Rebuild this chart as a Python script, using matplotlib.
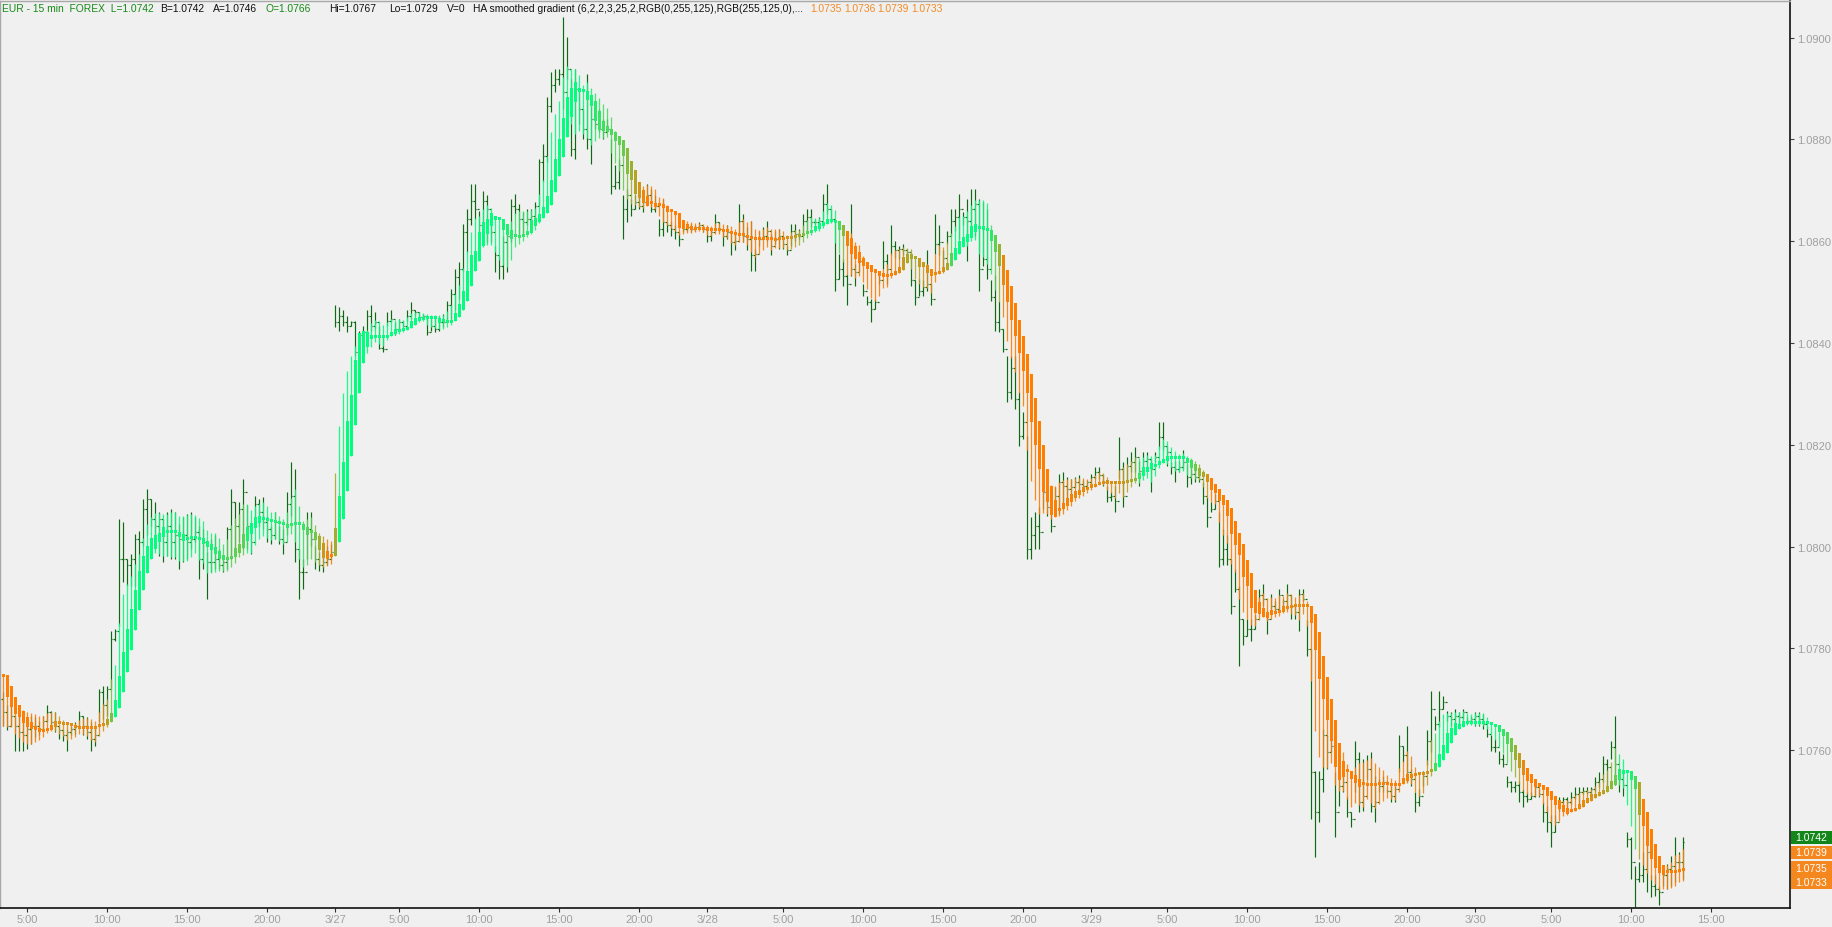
import numpy as np
import matplotlib
matplotlib.use("Agg")
import matplotlib.pyplot as plt
from matplotlib.collections import LineCollection
from matplotlib.patches import Rectangle
from matplotlib.transforms import blended_transform_factory

plt.rcParams['font.family'] = ['Liberation Sans', 'DejaVu Sans']

# ---------------- data (EUR/USD 15-min bars) ----------------
ha_mid = [
 1.07747, 1.07726, 1.07705, 1.07688, 1.07677, 1.07665, 1.07655, 1.07648, 1.07644, 1.07640,
 1.07638, 1.07640, 1.07645, 1.07651, 1.07654, 1.07653, 1.07652, 1.07650, 1.07647, 1.07645,
 1.07644, 1.07644, 1.07644, 1.07645, 1.07648, 1.07650, 1.07656, 1.07665, 1.07682, 1.07714,
 1.07753, 1.07796, 1.07837, 1.07876, 1.07914, 1.07948, 1.07975, 1.07996, 1.08009, 1.08018,
 1.08028, 1.08029, 1.08030, 1.08029, 1.08024, 1.08018, 1.08016, 1.08017, 1.08018, 1.08016,
 1.08011, 1.08005, 1.07999, 1.07992, 1.07984, 1.07979, 1.07976, 1.07979, 1.07988, 1.07997,
 1.08011, 1.08025, 1.08036, 1.08047, 1.08054, 1.08056, 1.08053, 1.08051, 1.08049, 1.08047,
 1.08045, 1.08041, 1.08043, 1.08045, 1.08045, 1.08039, 1.08031, 1.08029, 1.08021, 1.08007,
 1.07992, 1.07984, 1.07982, 1.08009, 1.08054, 1.08110, 1.08178, 1.08238, 1.08302, 1.08361,
 1.08392, 1.08407, 1.08411, 1.08412, 1.08412, 1.08412, 1.08413, 1.08417, 1.08422, 1.08424,
 1.08426, 1.08429, 1.08436, 1.08443, 1.08447, 1.08449, 1.08451, 1.08451, 1.08450, 1.08445,
 1.08444, 1.08443, 1.08443, 1.08451, 1.08464, 1.08483, 1.08512, 1.08542, 1.08561, 1.08590,
 1.08614, 1.08629, 1.08642, 1.08646, 1.08644, 1.08633, 1.08623, 1.08614, 1.08611, 1.08610,
 1.08612, 1.08616, 1.08629, 1.08637, 1.08645, 1.08656, 1.08672, 1.08696, 1.08729, 1.08765,
 1.08804, 1.08844, 1.08873, 1.08893, 1.08897, 1.08896, 1.08887, 1.08876, 1.08856, 1.08837,
 1.08827, 1.08821, 1.08815, 1.08806, 1.08798, 1.08783, 1.08758, 1.08739, 1.08716, 1.08700,
 1.08688, 1.08679, 1.08676, 1.08672, 1.08673, 1.08669, 1.08663, 1.08660, 1.08656, 1.08641,
 1.08633, 1.08629, 1.08626, 1.08625, 1.08625, 1.08625, 1.08624, 1.08623, 1.08623, 1.08623,
 1.08622, 1.08621, 1.08618, 1.08615, 1.08613, 1.08613, 1.08610, 1.08608, 1.08605, 1.08605,
 1.08605, 1.08606, 1.08605, 1.08604, 1.08605, 1.08606, 1.08607, 1.08608, 1.08609, 1.08611,
 1.08614, 1.08617, 1.08620, 1.08625, 1.08630, 1.08634, 1.08639, 1.08641, 1.08639, 1.08631,
 1.08621, 1.08606, 1.08590, 1.08578, 1.08568, 1.08560, 1.08553, 1.08546, 1.08542, 1.08537,
 1.08533, 1.08532, 1.08534, 1.08538, 1.08544, 1.08557, 1.08566, 1.08570, 1.08568, 1.08559,
 1.08554, 1.08546, 1.08539, 1.08537, 1.08539, 1.08544, 1.08551, 1.08564, 1.08575, 1.08588,
 1.08598, 1.08606, 1.08618, 1.08626, 1.08627, 1.08626, 1.08623, 1.08612, 1.08595, 1.08573,
 1.08544, 1.08512, 1.08479, 1.08446, 1.08413, 1.08379, 1.08340, 1.08292, 1.08246, 1.08199,
 1.08153, 1.08120, 1.08091, 1.08075, 1.08073, 1.08079, 1.08087, 1.08095, 1.08102, 1.08107,
 1.08112, 1.08115, 1.08119, 1.08121, 1.08124, 1.08126, 1.08127, 1.08126, 1.08126, 1.08126,
 1.08126, 1.08128, 1.08129, 1.08132, 1.08138, 1.08147, 1.08152, 1.08158, 1.08160, 1.08164,
 1.08168, 1.08173, 1.08176, 1.08175, 1.08175, 1.08175, 1.08170, 1.08162, 1.08155, 1.08147,
 1.08142, 1.08134, 1.08123, 1.08114, 1.08102, 1.08092, 1.08076, 1.08050, 1.08027, 1.08005,
 1.07973, 1.07948, 1.07914, 1.07892, 1.07880, 1.07871, 1.07865, 1.07870, 1.07870, 1.07872,
 1.07878, 1.07880, 1.07882, 1.07884, 1.07884, 1.07884, 1.07884, 1.07867, 1.07832, 1.07786,
 1.07743, 1.07701, 1.07660, 1.07614, 1.07578, 1.07563, 1.07560, 1.07552, 1.07544, 1.07536,
 1.07534, 1.07533, 1.07533, 1.07533, 1.07535, 1.07534, 1.07534, 1.07532, 1.07532, 1.07533,
 1.07539, 1.07546, 1.07550, 1.07553, 1.07554, 1.07555, 1.07557, 1.07560, 1.07567, 1.07580,
 1.07595, 1.07614, 1.07629, 1.07641, 1.07646, 1.07652, 1.07654, 1.07655, 1.07655, 1.07655,
 1.07655, 1.07654, 1.07652, 1.07649, 1.07642, 1.07635, 1.07624, 1.07610, 1.07595, 1.07580,
 1.07566, 1.07553, 1.07544, 1.07536, 1.07532, 1.07527, 1.07519, 1.07511, 1.07502, 1.07493,
 1.07486, 1.07480, 1.07481, 1.07484, 1.07489, 1.07496, 1.07501, 1.07507, 1.07510, 1.07514,
 1.07518, 1.07524, 1.07532, 1.07542, 1.07553, 1.07557, 1.07559, 1.07550, 1.07537, 1.07505,
 1.07478, 1.07445, 1.07416, 1.07392, 1.07375, 1.07365, 1.07362, 1.07362, 1.07362, 1.07363, 1.07365,
]

raw_high = [
 1.07714, 1.07688, 1.07694, 1.07668, 1.07671, 1.07661, 1.07665, 1.07668, 1.07665, 1.07658,
 1.07668, 1.07688, 1.07678, 1.07675, 1.07648, 1.07639, 1.07642, 1.07648, 1.07655, 1.07678,
 1.07668, 1.07665, 1.07655, 1.07648, 1.07720, 1.07727, 1.07727, 1.07835, 1.07838, 1.08054,
 1.08048, 1.07976, 1.07986, 1.08025, 1.08031, 1.08094, 1.08113, 1.08094, 1.08087, 1.08068,
 1.08054, 1.08068, 1.08074, 1.08068, 1.08045, 1.08058, 1.08064, 1.08068, 1.08058, 1.08041,
 1.08035, 1.07989, 1.08015, 1.08022, 1.07995, 1.07976, 1.08038, 1.08113, 1.08087, 1.08087,
 1.08133, 1.08081, 1.08041, 1.08100, 1.08094, 1.08097, 1.08061, 1.08041, 1.08068, 1.08041,
 1.08035, 1.08107, 1.08166, 1.08153, 1.07995, 1.07976, 1.08068, 1.08068, 1.08002, 1.07989,
 1.08002, 1.08002, 1.08005, 1.08474, 1.08470, 1.08464, 1.08454, 1.08444, 1.08444, 1.08424,
 1.08434, 1.08464, 1.08474, 1.08460, 1.08434, 1.08415, 1.08460, 1.08464, 1.08441, 1.08447,
 1.08444, 1.08464, 1.08480, 1.08464, 1.08460, 1.08457, 1.08454, 1.08451, 1.08454, 1.08454,
 1.08457, 1.08483, 1.08506, 1.08546, 1.08559, 1.08634, 1.08663, 1.08713, 1.08713, 1.08660,
 1.08699, 1.08690, 1.08650, 1.08591, 1.08572, 1.08611, 1.08627, 1.08683, 1.08693, 1.08673,
 1.08657, 1.08663, 1.08663, 1.08677, 1.08762, 1.08791, 1.08883, 1.08932, 1.08939, 1.08939,
 1.09040, 1.09001, 1.08919, 1.08939, 1.08899, 1.08860, 1.08929, 1.08866, 1.08866, 1.08860,
 1.08840, 1.08840, 1.08801, 1.08749, 1.08762, 1.08690, 1.08703, 1.08683, 1.08690, 1.08709,
 1.08690, 1.08713, 1.08703, 1.08690, 1.08644, 1.08683, 1.08637, 1.08637, 1.08631, 1.08618,
 1.08637, 1.08634, 1.08634, 1.08631, 1.08637, 1.08631, 1.08624, 1.08624, 1.08654, 1.08637,
 1.08624, 1.08631, 1.08621, 1.08614, 1.08673, 1.08654, 1.08627, 1.08640, 1.08585, 1.08621,
 1.08627, 1.08640, 1.08614, 1.08621, 1.08624, 1.08611, 1.08591, 1.08634, 1.08634, 1.08624,
 1.08654, 1.08663, 1.08663, 1.08644, 1.08647, 1.08693, 1.08713, 1.08663, 1.08637, 1.08575,
 1.08565, 1.08536, 1.08673, 1.08555, 1.08578, 1.08516, 1.08493, 1.08487, 1.08487, 1.08539,
 1.08601, 1.08575, 1.08631, 1.08601, 1.08591, 1.08595, 1.08585, 1.08575, 1.08523, 1.08526,
 1.08523, 1.08582, 1.08516, 1.08654, 1.08631, 1.08582, 1.08621, 1.08663, 1.08663, 1.08693,
 1.08657, 1.08683, 1.08703, 1.08703, 1.08683, 1.08677, 1.08663, 1.08523, 1.08533, 1.08483,
 1.08428, 1.08375, 1.08375, 1.08375, 1.08303, 1.08264, 1.08218, 1.08058, 1.08068, 1.08077,
 1.08140, 1.08097, 1.08077, 1.08117, 1.08143, 1.08146, 1.08136, 1.08133, 1.08136, 1.08140,
 1.08130, 1.08130, 1.08143, 1.08156, 1.08156, 1.08140, 1.08120, 1.08107, 1.08120, 1.08215,
 1.08166, 1.08176, 1.08185, 1.08195, 1.08169, 1.08185, 1.08185, 1.08172, 1.08185, 1.08244,
 1.08244, 1.08198, 1.08166, 1.08169, 1.08169, 1.08189, 1.08162, 1.08162, 1.08153, 1.08146,
 1.08126, 1.08097, 1.08087, 1.08104, 1.08068, 1.08035, 1.08022, 1.07976, 1.07956, 1.07923,
 1.07858, 1.07858, 1.07858, 1.07865, 1.07917, 1.07927, 1.07874, 1.07907, 1.07894, 1.07917,
 1.07897, 1.07927, 1.07904, 1.07884, 1.07917, 1.07917, 1.07855, 1.07799, 1.07560, 1.07560,
 1.07642, 1.07629, 1.07629, 1.07557, 1.07557, 1.07563, 1.07511, 1.07478, 1.07619, 1.07596,
 1.07583, 1.07590, 1.07596, 1.07550, 1.07544, 1.07550, 1.07524, 1.07530, 1.07530, 1.07629,
 1.07609, 1.07648, 1.07563, 1.07517, 1.07524, 1.07560, 1.07639, 1.07717, 1.07668, 1.07717,
 1.07707, 1.07678, 1.07675, 1.07681, 1.07675, 1.07681, 1.07665, 1.07668, 1.07675, 1.07675,
 1.07671, 1.07648, 1.07629, 1.07622, 1.07599, 1.07593, 1.07550, 1.07540, 1.07540, 1.07540,
 1.07524, 1.07517, 1.07517, 1.07544, 1.07524, 1.07498, 1.07491, 1.07472, 1.07472, 1.07508,
 1.07508, 1.07508, 1.07517, 1.07527, 1.07527, 1.07527, 1.07527, 1.07527, 1.07547, 1.07557,
 1.07589, 1.07583, 1.07619, 1.07668, 1.07563, 1.07557, 1.07439, 1.07429, 1.07373, 1.07380,
 1.07400, 1.07426, 1.07354, 1.07354, 1.07334, 1.07367, 1.07377, 1.07393, 1.07429, 1.07400, 1.07429,
]

raw_low = [
 1.07648, 1.07639, 1.07648, 1.07599, 1.07599, 1.07599, 1.07603, 1.07612, 1.07625, 1.07629,
 1.07639, 1.07655, 1.07648, 1.07635, 1.07622, 1.07619, 1.07599, 1.07629, 1.07632, 1.07648,
 1.07629, 1.07622, 1.07599, 1.07609, 1.07655, 1.07661, 1.07668, 1.07720, 1.07815, 1.07845,
 1.07930, 1.07923, 1.07923, 1.07923, 1.07953, 1.08002, 1.08022, 1.08041, 1.08009, 1.07982,
 1.07969, 1.07982, 1.07976, 1.07976, 1.07956, 1.07969, 1.07976, 1.07995, 1.08009, 1.07937,
 1.07956, 1.07897, 1.07950, 1.07956, 1.07956, 1.07950, 1.07956, 1.07976, 1.07986, 1.08009,
 1.07995, 1.07995, 1.07986, 1.08048, 1.08041, 1.08035, 1.08009, 1.08005, 1.08015, 1.08005,
 1.07986, 1.08022, 1.08061, 1.07969, 1.07897, 1.07917, 1.07976, 1.08002, 1.07956, 1.07953,
 1.07950, 1.07963, 1.07976, 1.08431, 1.08424, 1.08434, 1.08421, 1.08434, 1.08375, 1.08382,
 1.08382, 1.08415, 1.08424, 1.08428, 1.08388, 1.08382, 1.08434, 1.08441, 1.08415, 1.08424,
 1.08431, 1.08444, 1.08447, 1.08454, 1.08447, 1.08447, 1.08415, 1.08424, 1.08421, 1.08424,
 1.08431, 1.08441, 1.08447, 1.08464, 1.08487, 1.08542, 1.08578, 1.08631, 1.08644, 1.08591,
 1.08618, 1.08598, 1.08598, 1.08539, 1.08526, 1.08526, 1.08539, 1.08598, 1.08654, 1.08611,
 1.08611, 1.08631, 1.08631, 1.08637, 1.08670, 1.08716, 1.08755, 1.08853, 1.08893, 1.08906,
 1.08860, 1.08919, 1.08768, 1.08762, 1.08830, 1.08801, 1.08781, 1.08752, 1.08821, 1.08814,
 1.08801, 1.08814, 1.08693, 1.08703, 1.08703, 1.08605, 1.08637, 1.08650, 1.08663, 1.08663,
 1.08657, 1.08683, 1.08657, 1.08657, 1.08611, 1.08611, 1.08618, 1.08611, 1.08605, 1.08591,
 1.08618, 1.08621, 1.08618, 1.08621, 1.08624, 1.08618, 1.08598, 1.08601, 1.08624, 1.08618,
 1.08591, 1.08605, 1.08572, 1.08582, 1.08611, 1.08598, 1.08582, 1.08542, 1.08542, 1.08591,
 1.08604, 1.08601, 1.08572, 1.08595, 1.08585, 1.08585, 1.08572, 1.08591, 1.08601, 1.08604,
 1.08614, 1.08621, 1.08627, 1.08631, 1.08627, 1.08644, 1.08654, 1.08637, 1.08503, 1.08526,
 1.08513, 1.08474, 1.08532, 1.08513, 1.08539, 1.08493, 1.08474, 1.08441, 1.08467, 1.08516,
 1.08546, 1.08516, 1.08572, 1.08568, 1.08565, 1.08572, 1.08572, 1.08513, 1.08474, 1.08493,
 1.08493, 1.08503, 1.08474, 1.08575, 1.08572, 1.08546, 1.08595, 1.08611, 1.08621, 1.08604,
 1.08631, 1.08562, 1.08624, 1.08611, 1.08503, 1.08552, 1.08526, 1.08483, 1.08424, 1.08421,
 1.08382, 1.08284, 1.08290, 1.08271, 1.08198, 1.08212, 1.07976, 1.07976, 1.07995, 1.07995,
 1.08074, 1.08061, 1.08028, 1.08068, 1.08064, 1.08074, 1.08090, 1.08100, 1.08117, 1.08107,
 1.08113, 1.08120, 1.08123, 1.08133, 1.08133, 1.08120, 1.08087, 1.08090, 1.08068, 1.08133,
 1.08077, 1.08130, 1.08146, 1.08146, 1.08120, 1.08146, 1.08149, 1.08107, 1.08166, 1.08192,
 1.08189, 1.08159, 1.08143, 1.08126, 1.08146, 1.08153, 1.08117, 1.08123, 1.08126, 1.08126,
 1.08084, 1.08038, 1.08068, 1.08074, 1.07959, 1.07963, 1.07963, 1.07868, 1.07910, 1.07766,
 1.07806, 1.07825, 1.07815, 1.07838, 1.07884, 1.07884, 1.07829, 1.07871, 1.07871, 1.07871,
 1.07884, 1.07878, 1.07858, 1.07858, 1.07835, 1.07894, 1.07786, 1.07465, 1.07390, 1.07458,
 1.07517, 1.07563, 1.07596, 1.07429, 1.07491, 1.07517, 1.07468, 1.07449, 1.07517, 1.07478,
 1.07481, 1.07544, 1.07478, 1.07458, 1.07517, 1.07517, 1.07517, 1.07498, 1.07498, 1.07557,
 1.07576, 1.07537, 1.07530, 1.07478, 1.07491, 1.07530, 1.07570, 1.07596, 1.07639, 1.07645,
 1.07681, 1.07658, 1.07648, 1.07652, 1.07652, 1.07662, 1.07652, 1.07652, 1.07648, 1.07648,
 1.07642, 1.07626, 1.07599, 1.07596, 1.07573, 1.07567, 1.07527, 1.07517, 1.07517, 1.07498,
 1.07488, 1.07498, 1.07504, 1.07508, 1.07508, 1.07459, 1.07439, 1.07409, 1.07439, 1.07481,
 1.07495, 1.07478, 1.07495, 1.07504, 1.07491, 1.07514, 1.07514, 1.07514, 1.07517, 1.07527,
 1.07537, 1.07524, 1.07583, 1.07531, 1.07517, 1.07511, 1.07409, 1.07347, 1.07292, 1.07341,
 1.07341, 1.07321, 1.07311, 1.07314, 1.07295, 1.07334, 1.07328, 1.07334, 1.07341, 1.07360, 1.07347,
]

raw_close = [
 1.07675, 1.07648, 1.07668, 1.07648, 1.07635, 1.07629, 1.07642, 1.07648, 1.07648, 1.07642,
 1.07658, 1.07675, 1.07655, 1.07648, 1.07639, 1.07629, 1.07635, 1.07642, 1.07648, 1.07668,
 1.07648, 1.07635, 1.07622, 1.07629, 1.07714, 1.07688, 1.07720, 1.07819, 1.07835, 1.07976,
 1.07976, 1.07963, 1.07976, 1.08015, 1.08009, 1.08074, 1.08094, 1.08054, 1.08041, 1.08054,
 1.08009, 1.08041, 1.08009, 1.08022, 1.08015, 1.08022, 1.08009, 1.08015, 1.08028, 1.07976,
 1.08009, 1.07969, 1.07969, 1.07976, 1.07963, 1.07969, 1.08035, 1.08087, 1.08041, 1.08074,
 1.08107, 1.08041, 1.08009, 1.08084, 1.08068, 1.08048, 1.08035, 1.08022, 1.08048, 1.08015,
 1.08009, 1.08084, 1.08100, 1.07995, 1.07950, 1.07950, 1.08035, 1.08015, 1.07976, 1.07963,
 1.07969, 1.07976, 1.07989, 1.08441, 1.08454, 1.08441, 1.08434, 1.08441, 1.08382, 1.08415,
 1.08421, 1.08454, 1.08434, 1.08441, 1.08391, 1.08388, 1.08444, 1.08447, 1.08428, 1.08441,
 1.08434, 1.08454, 1.08464, 1.08460, 1.08451, 1.08454, 1.08421, 1.08434, 1.08428, 1.08441,
 1.08441, 1.08474, 1.08496, 1.08530, 1.08546, 1.08618, 1.08644, 1.08680, 1.08663, 1.08631,
 1.08680, 1.08663, 1.08618, 1.08572, 1.08552, 1.08598, 1.08611, 1.08670, 1.08663, 1.08644,
 1.08637, 1.08644, 1.08650, 1.08670, 1.08755, 1.08768, 1.08866, 1.08906, 1.08919, 1.08929,
 1.08893, 1.08939, 1.08781, 1.08899, 1.08860, 1.08821, 1.08801, 1.08840, 1.08830, 1.08821,
 1.08814, 1.08821, 1.08709, 1.08716, 1.08749, 1.08663, 1.08690, 1.08663, 1.08677, 1.08670,
 1.08677, 1.08690, 1.08663, 1.08670, 1.08624, 1.08637, 1.08631, 1.08624, 1.08618, 1.08605,
 1.08624, 1.08627, 1.08624, 1.08627, 1.08631, 1.08624, 1.08611, 1.08618, 1.08637, 1.08624,
 1.08611, 1.08618, 1.08598, 1.08601, 1.08640, 1.08611, 1.08604, 1.08572, 1.08575, 1.08604,
 1.08611, 1.08621, 1.08591, 1.08604, 1.08611, 1.08595, 1.08582, 1.08621, 1.08614, 1.08611,
 1.08640, 1.08647, 1.08637, 1.08637, 1.08640, 1.08673, 1.08663, 1.08644, 1.08526, 1.08546,
 1.08532, 1.08516, 1.08546, 1.08539, 1.08562, 1.08503, 1.08480, 1.08467, 1.08480, 1.08523,
 1.08562, 1.08546, 1.08591, 1.08582, 1.08585, 1.08582, 1.08578, 1.08523, 1.08490, 1.08503,
 1.08510, 1.08516, 1.08487, 1.08595, 1.08598, 1.08568, 1.08611, 1.08640, 1.08647, 1.08663,
 1.08647, 1.08640, 1.08663, 1.08673, 1.08546, 1.08565, 1.08546, 1.08490, 1.08441, 1.08428,
 1.08388, 1.08303, 1.08350, 1.08290, 1.08218, 1.08244, 1.07995, 1.08022, 1.08041, 1.08028,
 1.08107, 1.08077, 1.08041, 1.08100, 1.08126, 1.08120, 1.08113, 1.08117, 1.08126, 1.08123,
 1.08120, 1.08126, 1.08136, 1.08146, 1.08140, 1.08126, 1.08097, 1.08100, 1.08090, 1.08153,
 1.08100, 1.08159, 1.08166, 1.08176, 1.08149, 1.08169, 1.08172, 1.08153, 1.08176, 1.08215,
 1.08198, 1.08185, 1.08156, 1.08153, 1.08156, 1.08166, 1.08136, 1.08143, 1.08136, 1.08133,
 1.08100, 1.08058, 1.08074, 1.08090, 1.07976, 1.07995, 1.07976, 1.07884, 1.07917, 1.07858,
 1.07825, 1.07838, 1.07838, 1.07858, 1.07904, 1.07897, 1.07858, 1.07884, 1.07878, 1.07904,
 1.07894, 1.07904, 1.07884, 1.07871, 1.07907, 1.07897, 1.07799, 1.07557, 1.07478, 1.07544,
 1.07629, 1.07596, 1.07609, 1.07478, 1.07530, 1.07537, 1.07478, 1.07465, 1.07583, 1.07498,
 1.07511, 1.07563, 1.07491, 1.07498, 1.07530, 1.07537, 1.07520, 1.07511, 1.07524, 1.07609,
 1.07590, 1.07557, 1.07544, 1.07498, 1.07511, 1.07550, 1.07619, 1.07681, 1.07652, 1.07681,
 1.07694, 1.07668, 1.07662, 1.07668, 1.07665, 1.07675, 1.07658, 1.07662, 1.07668, 1.07662,
 1.07652, 1.07632, 1.07606, 1.07606, 1.07583, 1.07573, 1.07537, 1.07527, 1.07531, 1.07517,
 1.07511, 1.07504, 1.07511, 1.07527, 1.07514, 1.07478, 1.07459, 1.07439, 1.07459, 1.07498,
 1.07504, 1.07498, 1.07508, 1.07514, 1.07517, 1.07520, 1.07517, 1.07524, 1.07537, 1.07544,
 1.07573, 1.07567, 1.07606, 1.07573, 1.07544, 1.07531, 1.07426, 1.07380, 1.07347, 1.07354,
 1.07367, 1.07400, 1.07334, 1.07328, 1.07321, 1.07354, 1.07367, 1.07373, 1.07380, 1.07380, 1.07420,
]
first_open = 1.07700

# time axis (bar index of each labelled time)
tick_pos = [6, 26, 46, 66, 83, 99, 119, 139, 159, 176, 195, 215, 235, 255, 272,
            291, 311, 331, 351, 368, 387, 407, 427]
tick_labels = ['5:00', '10:00', '15:00', '20:00', '3/27', '5:00', '10:00', '15:00', '20:00',
               '3/28', '5:00', '10:00', '15:00', '20:00', '3/29', '5:00', '10:00', '15:00',
               '20:00', '3/30', '5:00', '10:00', '15:00']
price_ticks = [1.0760, 1.0780, 1.0800, 1.0820, 1.0840, 1.0860, 1.0880, 1.0900]

# header / status values
hdr_symbol = 'EUR - 15 min  FOREX  L=1.0742'
hdr_bid, hdr_ask, hdr_open = 'B=1.0742', 'A=1.0746', 'O=1.0766'
hdr_hi, hdr_lo, hdr_vol = 'Hi=1.0767', 'Lo=1.0729', 'V=0'
hdr_ind = 'HA smoothed gradient (6,2,2,3,25,2,RGB(0,255,125),RGB(255,125,0),...'
ind_values = ['1.0735', '1.0736', '1.0739', '1.0733']
last_price = '1.0742'

# ---------------- derived series ----------------
mid = np.array(ha_mid)
hi = np.array(raw_high)
lo = np.array(raw_low)
cl = np.array(raw_close)
n = len(mid)
assert len(hi) == n and len(lo) == n and len(cl) == n, (n, len(hi), len(lo), len(cl))
x = np.arange(n)
op = np.r_[first_open, cl[:-1]]

ha_open = np.r_[mid[0], mid[:-1]]          # HA open = midpoint of previous body
ha_close = 2 * mid - ha_open

def ema(a, span):
    alpha = 2.0 / (span + 1)
    out = np.empty_like(a)
    out[0] = a[0]
    for i in range(1, len(a)):
        out[i] = out[i - 1] + alpha * (a[i] - out[i - 1])
    return out

sm_hi = ema(hi, 6)
sm_lo = ema(lo, 6)
min_body = 0.00006
ctr = (ha_open + ha_close) / 2
half = np.maximum(np.abs(ha_close - ha_open) / 2, min_body / 2)
b_top, b_bot = ctr + half, ctr - half
ha_hi = np.maximum(sm_hi, b_top)
ha_lo = np.minimum(sm_lo, b_bot)

# gradient: 25-bar stochastic position of the HA line
t = np.zeros(n)
for i in range(n):
    w = mid[max(0, i - 24):i + 1]
    r = w.max() - w.min()
    t[i] = 0.0 if r == 0 else (mid[i] - w.min()) / r
c_dn = np.array([255, 125, 0]) / 255.0
c_up = np.array([0, 255, 125]) / 255.0
cols = c_dn[None, :] * (1 - t[:, None]) + c_up[None, :] * t[:, None]

# ---------------- figure ----------------
W, H = 1832, 928
BG = '#f0f0f0'
fig = plt.figure(figsize=(W / 100, H / 100), dpi=100, facecolor=BG)
ax_l, ax_r, ax_t, ax_b = 0, 1790, 2, 909
ax = fig.add_axes([ax_l / W, 1 - ax_b / H, (ax_r - ax_l) / W, (ax_b - ax_t) / H])
ax.set_facecolor(BG)
ax.set_xlim(-0.825, (ax_r - 3.3) / 4)
ax.set_ylim(1.07290, 1.09072)

# raw OHLC bars
xr = x - 0.15
segs = []
for i in range(n):
    segs.append([(xr[i], lo[i]), (xr[i], hi[i])])
    segs.append([(xr[i] - 0.32, op[i]), (xr[i], op[i])])
    segs.append([(xr[i], cl[i]), (xr[i] + 0.32, cl[i])])
ax.add_collection(LineCollection(segs, colors='#0b6a12', linewidths=0.85, zorder=2))

# HA smoothed candles
wicks = [[(x[i], ha_lo[i]), (x[i], ha_hi[i])] for i in range(n)]
ax.add_collection(LineCollection(wicks, colors=cols, linewidths=0.9, alpha=0.9, zorder=3))
ax.bar(x, b_top - b_bot, bottom=b_bot, width=0.8, color=cols, linewidth=0, zorder=4)

# axes styling
for s in ['left', 'top']:
    ax.spines[s].set_color('#a8a8a8')
    ax.spines[s].set_linewidth(1.0)
for s in ['right', 'bottom']:
    ax.spines[s].set_color('#101010')
    ax.spines[s].set_linewidth(1.2)

ax.yaxis.tick_right()
ax.set_yticks(price_ticks)
ax.set_yticklabels([f'{p:.4f}' for p in price_ticks])
ax.tick_params(axis='y', direction='out', length=3, width=0.8, color='#404040',
               labelcolor='#a0a0a0', labelsize=8, pad=2)
ax.set_xticks(tick_pos)
ax.set_xticklabels(tick_labels)
ax.tick_params(axis='x', direction='out', length=3, width=0.8, color='#303030',
               labelcolor='#a0a0a0', labelsize=8, pad=1.5)
date_pos = [p for p, l in zip(tick_pos, tick_labels) if '/' in l]
ax.set_xticks(date_pos, minor=True)
ax.tick_params(axis='x', which='minor', direction='out', length=6, width=0.8, color='#303030')

# header line
def htxt(px, s, color):
    fig.text(px / W, 1 - 9.5 / H, s, color=color, fontsize=7.4, va='center', ha='left')

GREEN_T, ORANGE_T = '#178a17', '#f08a24'
htxt(2, hdr_symbol, GREEN_T)
htxt(160, hdr_bid, '#111111')
htxt(213, hdr_ask, '#111111')
htxt(266, hdr_open, GREEN_T)
htxt(329, hdr_hi, '#111111')
htxt(389, hdr_lo, '#111111')
htxt(447, hdr_vol, '#111111')
htxt(473, hdr_ind, '#111111')
for px, s in zip([810, 844, 877, 911], ind_values):
    htxt(px, s, ORANGE_T)

# price tags on the right axis
tr = blended_transform_factory(fig.transFigure, ax.transData)
def ypx(py):
    return 1.09076 - 0.000019646 * py
x0 = (ax_r + 1) / W
wd = (W - ax_r - 1) / W
def tag(y0px, y1px, color, texts):
    ax.add_patch(Rectangle((x0, ypx(y1px)), wd, ypx(y0px) - ypx(y1px), transform=tr,
                           facecolor=color, edgecolor='none', clip_on=False, zorder=6))
    k = len(texts)
    for j, s in enumerate(texts):
        yc = y0px + (y1px - y0px) * (j + 0.5) / k
        ax.text(x0 + wd / 2, ypx(yc), s, transform=tr, ha='center', va='center',
                color='white', fontsize=7.5, clip_on=False, zorder=7)

tag(832, 845, '#13861a', [last_price])
tag(847, 860, '#f5871f', [ind_values[2]])
tag(862, 890, '#f5871f', [ind_values[0], ind_values[3]])

fig.savefig('out.png', dpi=100, facecolor=BG)
